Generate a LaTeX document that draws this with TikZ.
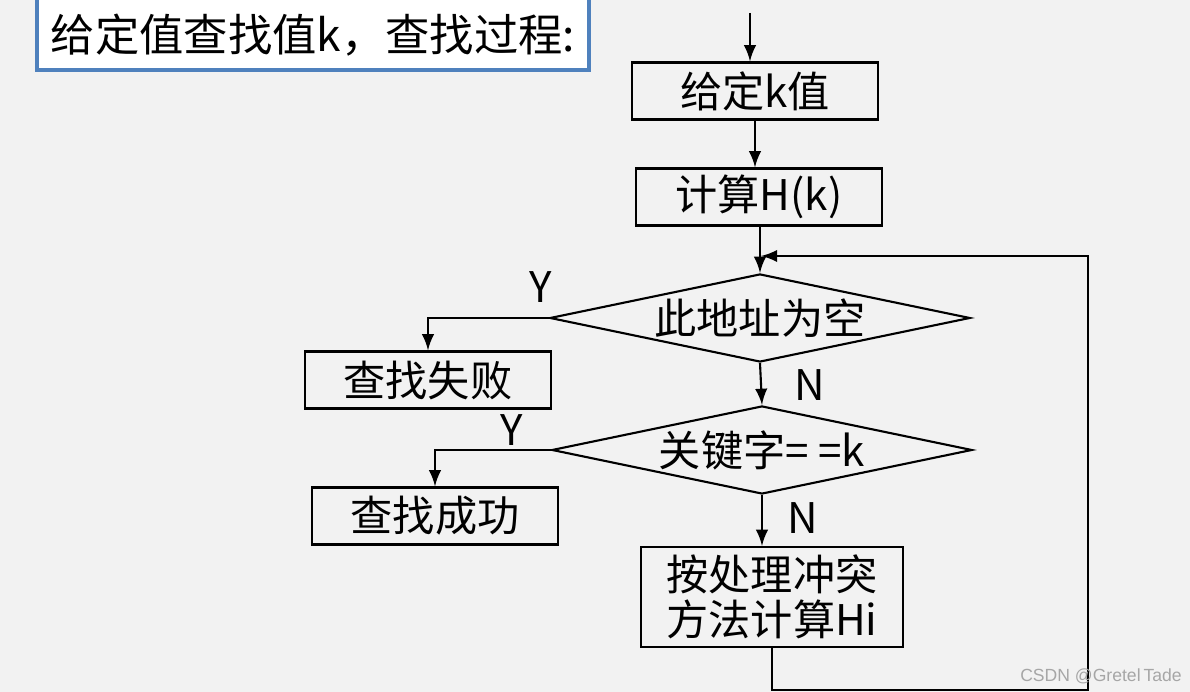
\documentclass[tikz,border=0pt]{standalone}
\usepackage{fontspec}
\setmainfont{Noto Sans CJK SC}
\newfontfamily\markfont{Liberation Sans}
\usetikzlibrary{shapes,arrows,positioning,calc}
\definecolor{titleblue}{HTML}{4F81BD}
\definecolor{pagebg}{HTML}{F2F2F2}

\begin{document}
\begin{tikzpicture}[x=0.01cm,y=-0.01cm,
  every node/.style={font=\fontsize{12pt}{12.8pt}\selectfont},
  box/.style={draw,line width=0.6pt,rectangle,inner sep=0pt,minimum width=2.46cm,minimum height=0.57cm},
  cond/.style={draw,line width=0.6pt,diamond,aspect=4.7,inner sep=0pt,minimum width=4.2cm,minimum height=0.88cm},
  line/.style={line width=0.6pt},
  yn/.style={inner sep=0pt}]

\useasboundingbox (0,0) rectangle (1190,692);
\fill[pagebg] (0,0) rectangle (1190,692);

% Header
\node[draw=titleblue,fill=white,line width=1pt,inner sep=0.06cm,text height=0.7cm,text depth=0.12cm,
  minimum width=5.52cm,anchor=base,font=\fontsize{12.6pt}{13pt}\selectfont] (title) at (313,52) {给定值查找值k，查找过程:};

% Boxes
\node[box] (give) at (755,91) {给定k值};
\node[box] (hash) at (759,197) {计算H(k)};
\node[cond] (empty) at (760,318) {此地址为空};
\node[box] (fail) at (428,380) {查找失败};
\node[cond] (equal) at (762,450) {关键字= =k};
\node[box] (found) at (435,516) {查找成功};
\node[box,align=center,minimum width=2.61cm,minimum height=1cm] (probe) at (772,597) {按处理冲突\\方法计算Hi};

% Labels
\node[yn] (y1) at (541,287) {Y};
\node[yn] (n1) at (810,385) {N};
\node[yn] (y2) at (512,430) {Y};
\node[yn] (n2) at (803,518) {N};

\coordinate (start) at (750,13);
\coordinate (back) at (761,256);
\coordinate (corner) at (1088,690);

% Arrows
\draw[line,-latex] (start) -- (start |- give.north);
\draw[line,-latex] (give.south) -- (give.south |- hash.north);
\draw[line,-latex] (hash.south -| empty.north) -- (empty.north);
\draw[line,-latex] (empty.west) -| (fail.north);
\draw[line,-latex] (empty.south) -- (equal.north);
\draw[line,-latex] (equal.west) -| (found.north);
\draw[line,-latex] (equal.south) -- (equal.south |- probe.north);
\draw[line,-latex] (probe.south) -- (probe.south |- corner) -- (corner) -- (corner |- back) -- (back);

\node[font=\markfont\fontsize{5pt}{6pt}\selectfont,text=black!35,inner sep=0pt] (mark) at (1101,676) {CSDN @Gretel\,Tade};
\end{tikzpicture}
\end{document}
